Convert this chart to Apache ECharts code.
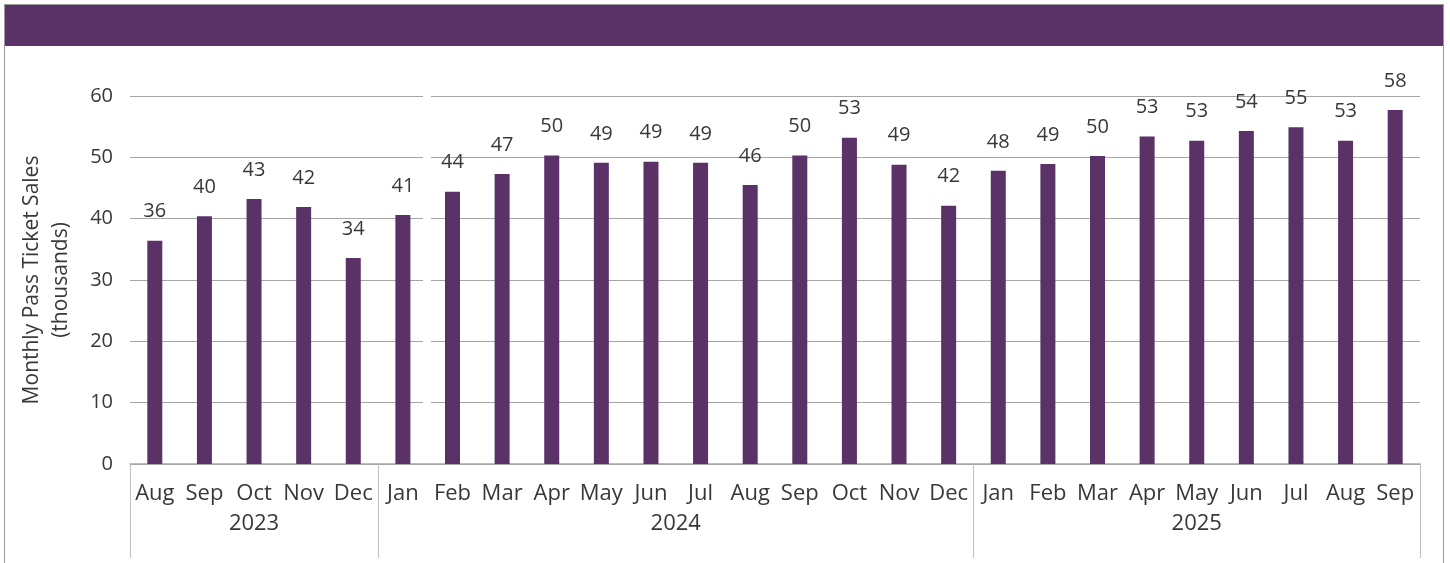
<!DOCTYPE html>
<html>
<head>
<meta charset="utf-8">
<script src="https://cdn.jsdelivr.net/npm/echarts@6/dist/echarts.min.js"></script>
<style>
  html, body { margin: 0; padding: 0; background: #fff; }
  .frame {
    position: absolute; left: 4px; top: 4px; width: 1438px; height: 600px;
    border: 1px solid #9a9a9a; box-sizing: content-box;
  }
  .band { position: absolute; left: 0; top: 0; right: 0; height: 41px; background: #5a3268; }
  #chart { position: absolute; left: 0; top: 0; width: 1450px; height: 563px; }
</style>
</head>
<body>
<div class="frame"><div class="band"></div></div>
<div id="chart"></div>
<script>
// monthly pass ticket sales, thousands
const months = ["Aug", "Sep", "Oct", "Nov", "Dec",
  "Jan", "Feb", "Mar", "Apr", "May", "Jun", "Jul", "Aug", "Sep", "Oct", "Nov", "Dec",
  "Jan", "Feb", "Mar", "Apr", "May", "Jun", "Jul", "Aug", "Sep"]
const sales = [36.4, 40.4, 43.2, 41.9, 33.6,
  40.6, 44.4, 47.3, 50.3, 49.1, 49.3, 49.1, 45.5, 50.3, 53.2, 48.8, 42.1,
  47.8, 48.9, 50.2, 53.4, 52.7, 54.3, 54.9, 52.7, 57.7]
const years = ["2023", "2024", "2025"]
const yearStart = [0, 5, 17, 26] // group boundaries, in category slots
const yTicks = [0, 10, 20, 30, 40, 50, 60]

const yearMid = years.map((y, i) => (yearStart[i] + yearStart[i + 1]) / 2)
const font = "Open Sans"
const txt = "#383838"

const chart = echarts.init(document.getElementById("chart"))

chart.setOption({
  animation: false,
  textStyle: { fontFamily: font },
  grid: { left: 130, right: 30, top: 96, bottom: 99 },
  xAxis: [
    {
      type: "category",
      data: months,
      axisLine: { lineStyle: { color: "#a6a6a6", width: 1.5 } },
      axisTick: { show: false },
      axisLabel: { color: txt, fontSize: 22, margin: 19, interval: 0, fontFamily: font }
    },
    {
      type: "value",
      position: "bottom",
      min: 0,
      max: yearStart[yearStart.length - 1],
      axisLine: { show: false },
      splitLine: { show: false },
      axisTick: {
        show: true,
        customValues: yearStart,
        length: 94,
        lineStyle: { color: "#bfbfbf", width: 1 }
      },
      axisLabel: {
        customValues: yearMid,
        color: txt, fontSize: 22, margin: 49, fontFamily: font,
        formatter: v => years[yearMid.indexOf(v)] || ""
      }
    }
  ],
  yAxis: {
    type: "value",
    min: yTicks[0],
    max: yTicks[yTicks.length - 1],
    interval: 10,
    name: "Monthly Pass Ticket Sales\n(thousands)",
    nameLocation: "middle",
    nameGap: 54,
    nameTextStyle: { color: txt, fontSize: 21, lineHeight: 29, fontFamily: font },
    axisLine: { show: false },
    axisTick: { show: false },
    axisLabel: { color: txt, fontSize: 20, margin: 17, fontFamily: font },
    splitLine: { lineStyle: { color: "#a6a6a6", width: 1 } }
  },
  series: [
    {
      type: "bar",
      data: sales,
      barWidth: 15,
      itemStyle: { color: "#5a3268" },
      label: {
        show: true,
        position: "top",
        distance: 19,
        color: txt,
        fontSize: 20,
        fontFamily: font,
        formatter: p => Math.round(p.value)
      }
    }
  ],
  graphic: [
    // small break in the gridlines between Jan and Feb 2024
    { type: "rect", shape: { x: 423, y: 90, width: 8, height: 372 }, style: { fill: "#fff" }, z: 1 }
  ]
})

window.addEventListener("resize", () => chart.resize())
</script>
</body>
</html>
